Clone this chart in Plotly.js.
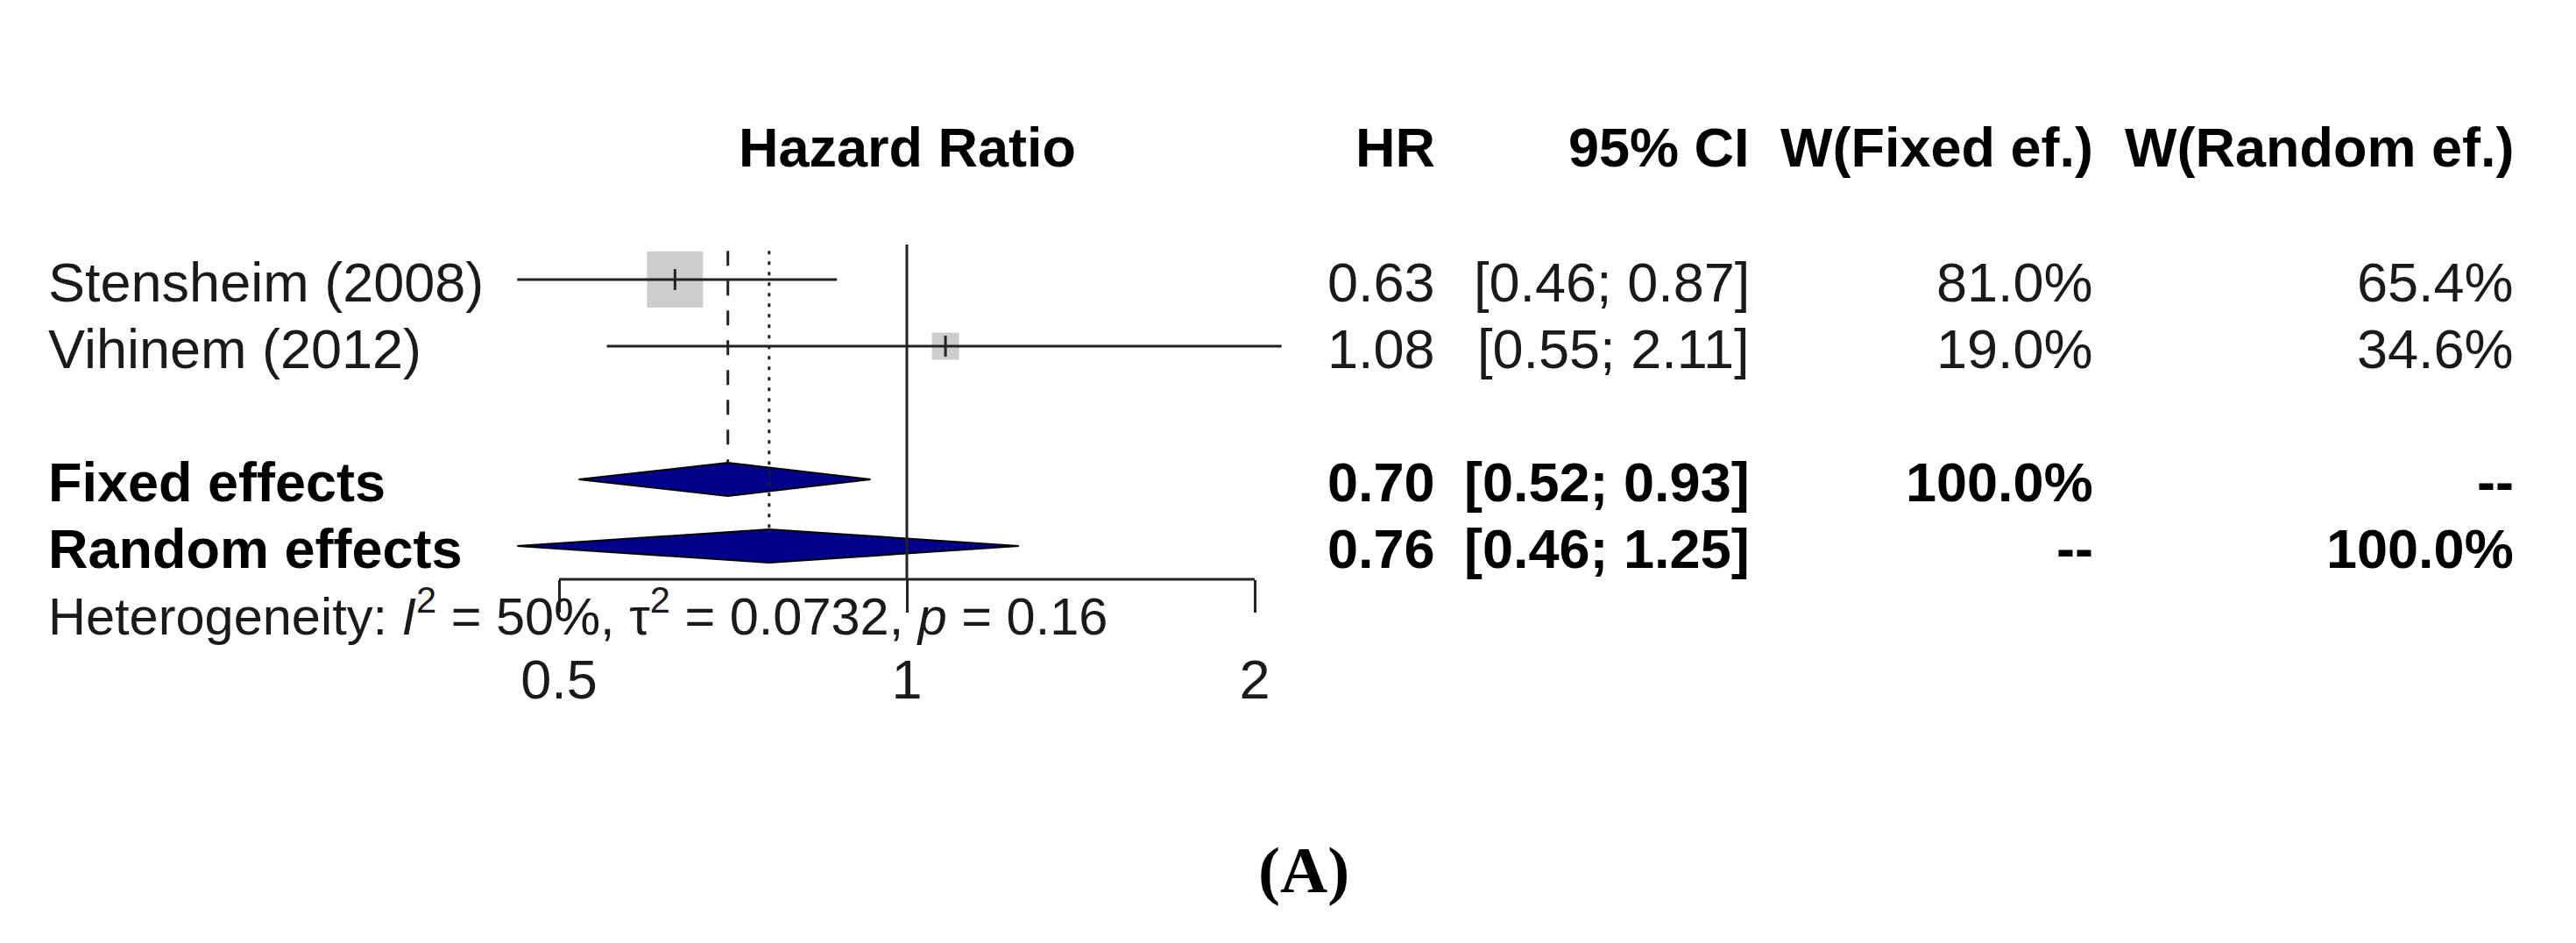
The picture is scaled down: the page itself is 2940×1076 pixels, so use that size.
<!DOCTYPE html>
<html>
<head>
<meta charset="utf-8">
<script src="https://cdn.plot.ly/plotly-3.0.1.min.js"></script>
<style>html,body{margin:0;padding:0;background:#fff;}#chart{width:2940px;height:1076px;}</style>
</head>
<body>
<div id="chart"></div>
<script>
// ---- data ----
var studies = ['Stensheim (2008)', 'Vihinem (2012)'];
var studyHR = [0.63, 1.08];
var studyLo = [0.46, 0.55];
var studyHi = [0.87, 2.11];
var studyWFixed = [81.0, 19.0];
var studyWRandom = [65.4, 34.6];

var pooledLabels = ['Fixed effects', 'Random effects'];
var pooledHR = [0.70, 0.76];
var pooledLo = [0.52, 0.46];
var pooledHi = [0.93, 1.25];
var pooledWFixed = ['100.0%', '--'];
var pooledWRandom = ['--', '100.0%'];

var columnHeaders = ['HR', '95% CI', 'W(Fixed ef.)', 'W(Random ef.)'];
var plotHeader = 'Hazard Ratio';
var tickVals = [0.5, 1, 2];
var tickText = ['0.5', '1', '2'];
var hetI2 = '50%';
var hetTau2 = '0.0732';
var hetP = '0.16';
var panelLabel = '(A)';

// ---- layout helpers ----
var studyRows = [1, 2];
var pooledRows = [4, 5];
var headerRow = -0.987;
var axisRow = 5.5;
var FONT = 'Liberation Sans, Arial, sans-serif';
var FS = 63;
var TXT = '#1a1a1a';
var LINE = '#222222';
var colX = [1640 / 2940, 1999 / 2940, 2391 / 2940, 2871 / 2940];

function fmt2(v) { return v.toFixed(2); }
function ci(lo, hi) { return '[' + fmt2(lo) + '; ' + fmt2(hi) + ']'; }
function pct(v) { return v.toFixed(1) + '%'; }

var traces = [];

// study squares (area proportional to fixed-effect weight)
traces.push({
  type: 'scatter', mode: 'markers', x: studyHR, y: studyRows,
  marker: {symbol: 'square', color: '#b8b8b8', size: studyWFixed.map(function (w) { return 7.11 * Math.sqrt(w); }), line: {width: 0}},
  hoverinfo: 'skip'
});
// CI lines
studies.forEach(function (s, i) {
  traces.push({
    type: 'scatter', mode: 'lines', x: [studyLo[i], studyHi[i]], y: [studyRows[i], studyRows[i]],
    line: {color: LINE, width: 3}, hoverinfo: 'skip'
  });
});
// estimate ticks
traces.push({
  type: 'scatter', mode: 'markers', x: studyHR, y: studyRows,
  marker: {symbol: 'line-ns-open', size: 17, color: LINE, line: {color: LINE, width: 3}},
  hoverinfo: 'skip'
});
// diamonds
pooledLabels.forEach(function (s, i) {
  var r = pooledRows[i];
  traces.push({
    type: 'scatter', mode: 'lines', fill: 'toself', fillcolor: '#00008b',
    x: [pooledLo[i], pooledHR[i], pooledHi[i], pooledHR[i], pooledLo[i]],
    y: [r, r - 0.25, r, r + 0.25, r],
    line: {color: '#000', width: 2}, hoverinfo: 'skip'
  });
});
// pooled estimate vertical lines
traces.push({
  type: 'scatter', mode: 'lines', x: [pooledHR[0], pooledHR[0]], y: [0.57, pooledRows[0] - 0.25],
  line: {color: LINE, width: 3, dash: '17px,17px'}, hoverinfo: 'skip'
});
traces.push({
  type: 'scatter', mode: 'lines', x: [pooledHR[1], pooledHR[1]], y: [0.57, pooledRows[1] - 0.25],
  line: {color: LINE, width: 3, dash: '4px,8px'}, hoverinfo: 'skip'
});
// reference line at 1
traces.push({
  type: 'scatter', mode: 'lines', x: [1, 1], y: [0.474, axisRow],
  line: {color: LINE, width: 3}, hoverinfo: 'skip'
});
// axis line from first to last tick
traces.push({
  type: 'scatter', mode: 'lines', x: [tickVals[0], tickVals[tickVals.length - 1]], y: [axisRow, axisRow],
  line: {color: LINE, width: 3}, hoverinfo: 'skip'
});

// ---- annotations ----
var ann = [];
function addText(text, x, y, xanchor, bold, xref, extra) {
  var a = {
    text: text, x: x, y: y, xref: xref || 'paper', yref: 'y',
    xanchor: xanchor, yanchor: 'middle', showarrow: false,
    font: {family: FONT, size: FS, color: bold ? '#000' : TXT, weight: bold ? 'bold' : 'normal'}
  };
  if (extra) { for (var k in extra) a[k] = extra[k]; }
  ann.push(a);
}
// headers
addText(plotHeader, Math.log10(1), headerRow, 'center', true, 'x');
columnHeaders.forEach(function (h, j) { addText(h, colX[j], headerRow, 'right', true); });
// study rows
studies.forEach(function (s, i) {
  var y = studyRows[i] + 0.04;
  addText(s, 53 / 2940, y, 'left', false);
  addText(fmt2(studyHR[i]), colX[0], y, 'right', false);
  addText(ci(studyLo[i], studyHi[i]), colX[1], y, 'right', false);
  addText(pct(studyWFixed[i]), colX[2], y, 'right', false);
  addText(pct(studyWRandom[i]), colX[3], y, 'right', false);
});
// pooled rows
pooledLabels.forEach(function (s, i) {
  var y = pooledRows[i] + 0.04;
  addText(s, 53 / 2940, y, 'left', true);
  addText(fmt2(pooledHR[i]), colX[0], y, 'right', true);
  addText(ci(pooledLo[i], pooledHi[i]), colX[1], y, 'right', true);
  addText(pooledWFixed[i], colX[2], y, 'right', true);
  addText(pooledWRandom[i], colX[3], y, 'right', true);
});
// heterogeneity
addText('Heterogeneity: <i>I</i><sup>2</sup> = ' + hetI2 + ', τ<sup>2</sup> = ' + hetTau2 + ', <i>p</i> = ' + hetP,
  53 / 2940, 6.52, 'left', false, 'paper',
  {yanchor: 'bottom', font: {family: FONT, size: 59.5, color: TXT}});
// panel label
ann.push({
  text: '<b>' + panelLabel + '</b>', x: 1488 / 2940, y: 0.078, xref: 'paper', yref: 'paper',
  xanchor: 'center', yanchor: 'middle', showarrow: false,
  font: {family: 'Liberation Serif, Times New Roman, serif', size: 75, color: '#000'}
});

var layout = {
  width: 2940, height: 1076,
  margin: {l: 0, r: 0, t: 0, b: 0, pad: 0},
  paper_bgcolor: '#fff', plot_bgcolor: '#fff',
  showlegend: false,
  xaxis: {
    type: 'log', range: [-1035 / 1318.8, 1905 / 1318.8], domain: [0, 1],
    tickvals: tickVals, ticktext: tickText,
    ticks: 'outside', ticklen: 37, tickwidth: 3, tickcolor: LINE,
    ticklabelstandoff: 22,
    tickfont: {family: FONT, size: FS, color: TXT},
    showgrid: false, zeroline: false, showline: false,
    anchor: 'free', position: 1 - 661 / 1076, fixedrange: true
  },
  yaxis: {
    range: [1 + (1076 - 319) / 76, 1 - 319 / 76], domain: [0, 1],
    showticklabels: false, showgrid: false, zeroline: false, showline: false, ticks: '', fixedrange: true
  },
  annotations: ann
};

Plotly.newPlot('chart', traces, layout, {displayModeBar: false, staticPlot: true});
</script>
</body>
</html>
